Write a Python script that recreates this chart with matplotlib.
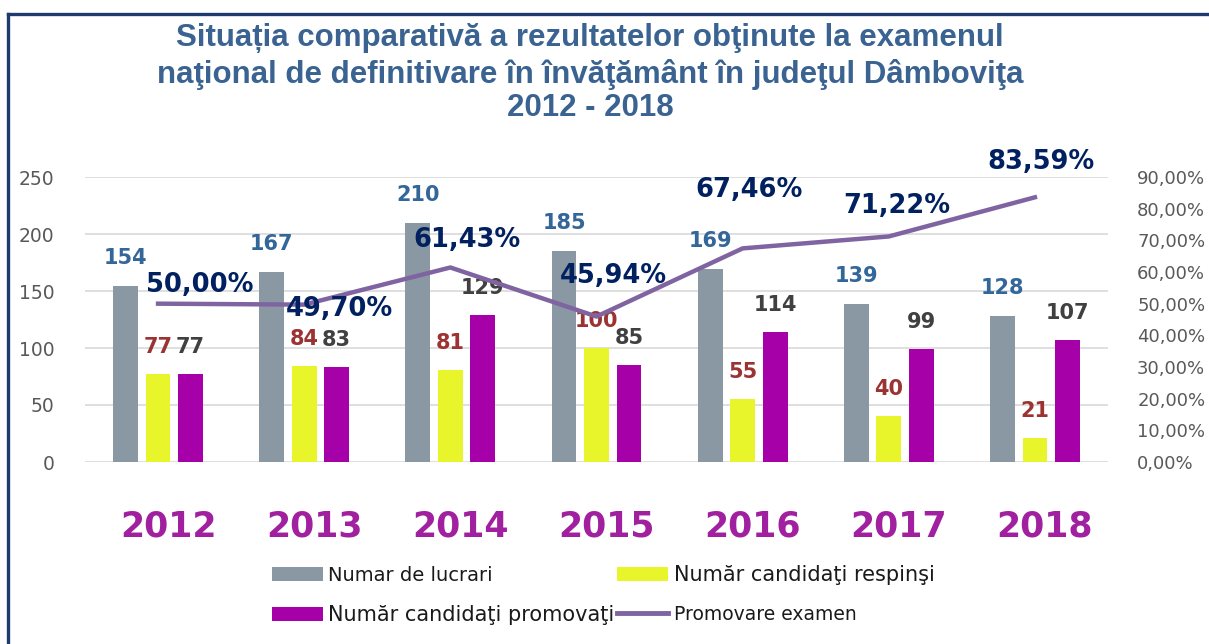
import matplotlib
matplotlib.use("Agg")
import matplotlib.pyplot as plt
import numpy as np
from matplotlib.lines import Line2D
from matplotlib.patches import Patch
from matplotlib.ticker import FuncFormatter
from matplotlib.transforms import ScaledTranslation

years = ["2012", "2013", "2014", "2015", "2016", "2017", "2018"]
lucrari = [154, 167, 210, 185, 169, 139, 128]
respinsi = [77, 84, 81, 100, 55, 40, 21]
promovati = [77, 83, 129, 85, 114, 99, 107]
promovare = [50.00, 49.70, 61.43, 45.94, 67.46, 71.22, 83.59]

# label offsets (pixels) for percentage labels relative to points
pct_off_px = [(42, 19), (35, -4), (17, 27), (17, 41), (6, 58), (8, 30), (6, 35)]

W, H = 1209, 644
fig = plt.figure(figsize=(W / 100, H / 100), dpi=100)
fig.patch.set_facecolor("white")

ax = fig.add_axes([85 / W, 1 - 462 / H, (1108 - 85) / W, (462 - 177) / H])
ax2 = ax.twinx()

c_gray = "#8A98A4"
c_yellow = "#E8F52A"
c_mag = "#A600A8"
c_line = "#8064A2"

x = np.arange(len(years))
bw = 0.17
step = 0.222
ax.bar(x - step, lucrari, bw, color=c_gray, zorder=2)
ax.bar(x, respinsi, bw, color=c_yellow, zorder=2)
ax.bar(x + step, promovati, bw, color=c_mag, zorder=2)

ax.set_ylim(0, 250)
ax.set_xlim(-0.5, len(years) - 0.5)
ax.set_yticks(range(0, 251, 50))
ax.grid(axis="y", color="#D9D9D9", linewidth=1.2, zorder=0)
ax.set_axisbelow(True)
for sp in ax.spines.values():
    sp.set_visible(False)
for sp in ax2.spines.values():
    sp.set_visible(False)
ax.tick_params(axis="y", length=0, pad=22, labelsize=13.5, labelcolor="#595959")
ax.set_xticks(x)
ax.set_xticklabels(years)
ax.tick_params(axis="x", length=0, pad=34, labelsize=25)
shift = ScaledTranslation(10 / 100, 0, fig.dpi_scale_trans)
for t in ax.get_xticklabels():
    t.set_color("#A020A0")
    t.set_fontweight("bold")
    t.set_transform(t.get_transform() + shift)

px2pt = 0.72
for i in range(len(years)):
    ax.annotate(str(lucrari[i]), (x[i] - step, lucrari[i]), xytext=(0, 28 * px2pt),
                textcoords="offset points", ha="center", va="center",
                fontsize=15, fontweight="bold", color="#336699", zorder=5)
    ax.annotate(str(respinsi[i]), (x[i], respinsi[i]), xytext=(0, 27 * px2pt),
                textcoords="offset points", ha="center", va="center",
                fontsize=15, fontweight="bold", color="#9C3333", zorder=5)
    ax.annotate(str(promovati[i]), (x[i] + step, promovati[i]), xytext=(0, 27 * px2pt),
                textcoords="offset points", ha="center", va="center",
                fontsize=15, fontweight="bold", color="#404040", zorder=5)

pvals = [p / 100 for p in promovare]
ax2.plot(x, pvals, color=c_line, linewidth=3.2, zorder=4)
ax2.set_ylim(0, 0.9)
ax2.set_yticks(np.arange(0, 0.91, 0.1))
ax2.yaxis.set_major_formatter(FuncFormatter(lambda v, p: f"{v*100:.2f}%".replace(".", ",")))
ax2.tick_params(axis="y", length=0, pad=21, labelsize=13, labelcolor="#595959")
for i in range(len(years)):
    dx, dy = pct_off_px[i]
    ax2.annotate(f"{promovare[i]:.2f}%".replace(".", ","), (x[i], pvals[i]),
                 xytext=(dx * px2pt, dy * px2pt), textcoords="offset points",
                 ha="center", va="center", fontsize=18.5, fontweight="bold",
                 color="#002060", zorder=6)

# Title
title_lines = ["Situația comparativă a rezultatelor obţinute la examenul",
               "naţional de definitivare în învăţământ în judeţul Dâmboviţa",
               "2012 - 2018"]
for yy, line in zip([38, 74, 108], title_lines):
    fig.text(590 / W, 1 - yy / H, line, ha="center", va="center", fontsize=22.5,
             fontweight="bold", color="#3A6392",
             family=["Liberation Sans", "DejaVu Sans"])

# Frame
fig.add_artist(Line2D([8 / W, 8 / W], [-0.05, 1 - 14 / H], transform=fig.transFigure,
                      color="#1F3A6E", linewidth=2.4))
fig.add_artist(Line2D([8 / W, 1.05], [1 - 14 / H, 1 - 14 / H], transform=fig.transFigure,
                      color="#1F3A6E", linewidth=2.4))

# Legend
handles = [Patch(facecolor=c_gray), Patch(facecolor=c_mag),
           Patch(facecolor=c_yellow), Line2D([], [], color=c_line, linewidth=3.5)]
labels = ["Numar de lucrari", "Număr candidaţi promovaţi",
          "Număr candidaţi respinşi", "Promovare examen"]
leg = fig.legend(handles, labels, ncol=2, loc="center left",
                 bbox_to_anchor=(254 / W, 1 - 595 / H), frameon=False,
                 handlelength=2.63, handleheight=0.72, handletextpad=0.3,
                 columnspacing=0.1, labelspacing=1.05,
                 prop={"family": ["DejaVu Sans"], "size": 14})
sizes = [14, 15, 15, 13.5]
for t, s in zip(leg.get_texts(), sizes):
    t.set_fontsize(s)
    t.set_color("#1A1A1A")

fig.savefig("out.png", dpi=100)
